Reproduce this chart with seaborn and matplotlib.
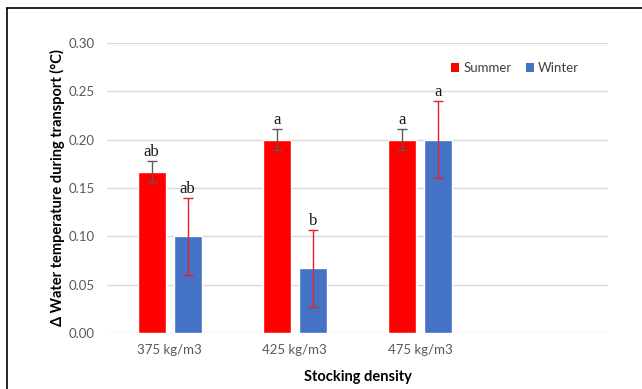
import matplotlib
matplotlib.use("Agg")
import matplotlib.pyplot as plt
from matplotlib.patches import Patch
from matplotlib.lines import Line2D
import numpy as np
import pandas as pd
import seaborn as sns

# Data
densities = ["375 kg/m3", "425 kg/m3", "475 kg/m3"]
seasons = ["Summer", "Winter"]
summer_mean = [0.167, 0.200, 0.200]
winter_mean = [0.100, 0.067, 0.200]
summer_err = [0.011, 0.011, 0.011]
winter_err = [0.040, 0.040, 0.040]
summer_letters = ["ab", "a", "a"]
winter_letters = ["ab", "b", "a"]

df = pd.DataFrame({
    "density": densities * 2,
    "season": ["Summer"] * 3 + ["Winter"] * 3,
    "value": summer_mean + winter_mean,
})

sns.set_theme(style="white")
plt.rcParams["font.family"] = ["Lato", "DejaVu Sans"]

fig = plt.figure(figsize=(6.42, 3.89), dpi=100)
ax = fig.add_axes([107 / 642, 1 - 333 / 389, (608 - 107) / 642, (333 - 43) / 389])

palette = {"Summer": "#ff0000", "Winter": "#4472c4"}
sns.barplot(data=df, x="density", y="value", hue="season", order=densities,
            hue_order=seasons, palette=palette, width=0.576, gap=0.222,
            errorbar=None, legend=False, ax=ax, saturation=1)

err_colors = {"Summer": "#595959", "Winter": "#e8202a"}
errs = {"Summer": summer_err, "Winter": winter_err}
means = {"Summer": summer_mean, "Winter": winter_mean}
letters = {"Summer": summer_letters, "Winter": winter_letters}
for season, container in zip(seasons, ax.containers):
    for i, bar in enumerate(container):
        cx = bar.get_x() + bar.get_width() / 2
        m, e = means[season][i], errs[season][i]
        ax.errorbar(cx, m, yerr=e, fmt="none", ecolor=err_colors[season],
                    elinewidth=1.0, capsize=3.5, capthick=1.0, zorder=4)
        ax.text(cx, m + e + 0.001, letters[season][i], ha="center", va="bottom",
                fontsize=12, family=["Liberation Serif", "DejaVu Serif"],
                color="#1a1a1a")

ax.set_xlim(-0.5, 3.5)
ax.set_ylim(0, 0.30)
ax.set_yticks(np.arange(0, 0.301, 0.05))
ax.set_yticklabels([f"{v:.2f}" for v in np.arange(0, 0.301, 0.05)])
ax.grid(axis="y", color="#d9d9d9", linewidth=1.0, zorder=0)
ax.set_axisbelow(True)
for s in ax.spines.values():
    s.set_visible(False)
ax.tick_params(axis="both", length=0, labelsize=9.5, labelcolor="#595959")
ax.tick_params(axis="x", pad=8)
ax.tick_params(axis="y", pad=9)

ax.set_xlabel("Stocking density", fontsize=10.5, fontweight="bold", color="#000000",
              labelpad=10)
ax.set_ylabel("Δ Water temperature during transport (°C)", fontsize=10.5,
              fontweight="bold", color="#000000", labelpad=2)

handles = [Patch(facecolor=palette[s], edgecolor="none", label=s) for s in seasons]
ax.legend(handles=handles, loc="center right", bbox_to_anchor=(0.965, 0.914),
          ncol=2, frameon=False, fontsize=9.5, handlelength=0.6, handleheight=0.7,
          handletextpad=0.3, columnspacing=1.1, labelcolor="#404040")

# Outer frame
fig.add_artist(Line2D([7 / 642, 7 / 642], [0, 1 - 8 / 389], transform=fig.transFigure,
                      color="black", linewidth=1.2))
fig.add_artist(Line2D([7 / 642, 1], [1 - 8 / 389, 1 - 8 / 389], transform=fig.transFigure,
                      color="black", linewidth=1.2))

fig.savefig("out.png", dpi=100)
